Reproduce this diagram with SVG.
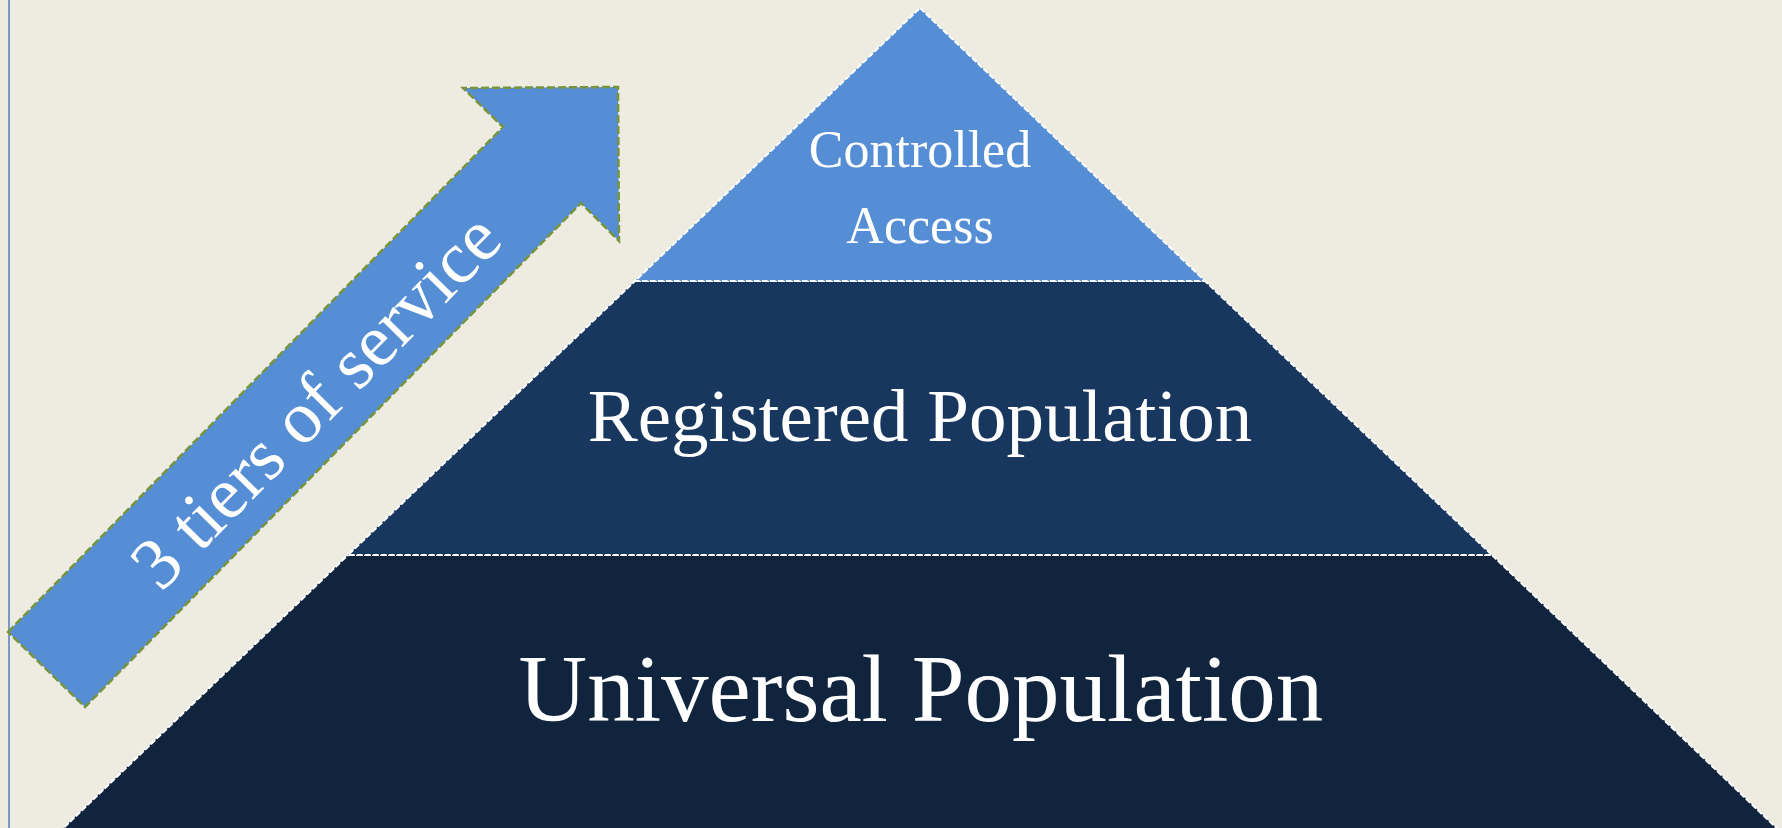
<svg xmlns="http://www.w3.org/2000/svg" width="1782" height="828" viewBox="0 0 1782 828">
  <style>
    .tier { stroke: #ffffff; stroke-width: 2; stroke-dasharray: 6 2; stroke-linejoin: miter; }
    .lbl { font-family: "Liberation Serif", "Times New Roman", serif; fill: #ffffff; text-anchor: middle; }
  </style>
  <rect x="0" y="0" width="1782" height="828" fill="#EEECE1"/>
  <line x1="9" y1="0" x2="9" y2="828" stroke="#4F81BD" stroke-width="1.5"/>
  <g id="tier-universal">
    <polygon class="tier" fill="#10243E" points="348,555 1492,555 1789,840 51,840"/>
    <text class="lbl" x="921" y="721" font-size="95">Universal Population</text>
  </g>
  <g id="tier-registered">
    <polygon class="tier" fill="#17375E" points="635,281 1205,281 1492,555 348,555"/>
    <text class="lbl" x="920" y="441" font-size="75">Registered Population</text>
  </g>
  <g id="tier-controlled">
    <polygon class="tier" fill="#558ED5" points="920,8 1205,281 635,281"/>
    <text class="lbl" x="920" y="167" font-size="52">Controlled</text>
    <text class="lbl" x="920" y="243" font-size="52">Access</text>
  </g>
  <g id="arrow">
    <polygon fill="#558ED5" stroke="#77933C" stroke-width="2.5" stroke-dasharray="8 3" points="8,632 503,127 463,88 618,87 619,241 581,203 85,707"/>
    <text class="lbl" x="333" y="418" font-size="74" transform="rotate(-45.5 333 418)">3 tiers of service</text>
  </g>
</svg>
